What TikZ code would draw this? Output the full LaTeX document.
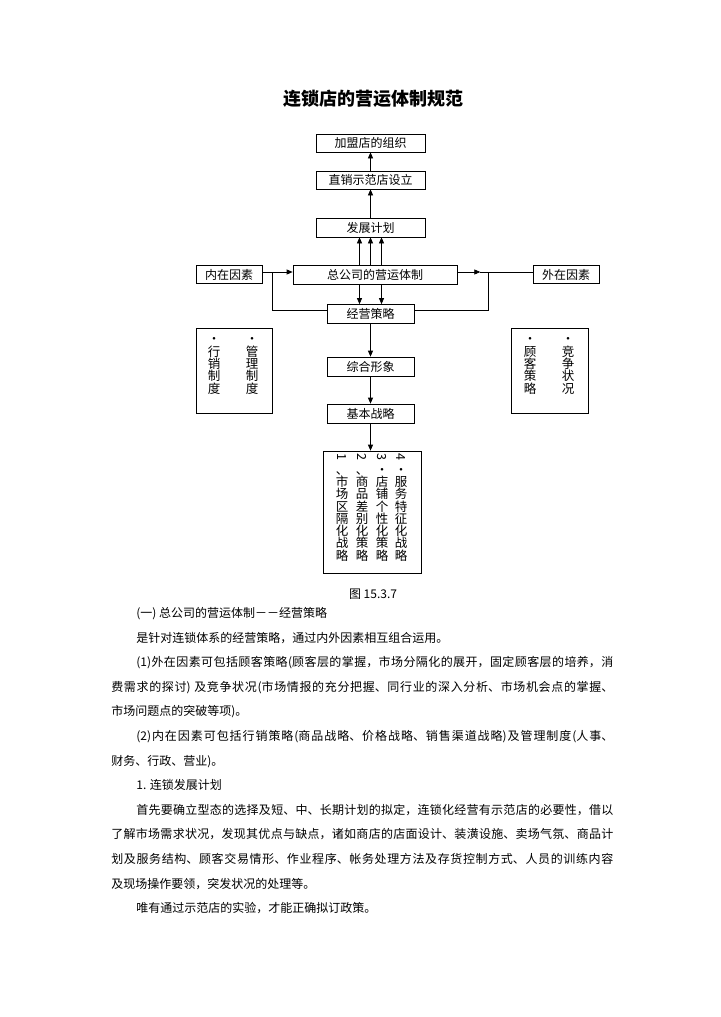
\documentclass[tikz,border=0pt]{standalone}
\usepackage{fontspec}
\setmainfont{Noto Sans CJK SC}
\usetikzlibrary{arrows.meta,positioning}
\XeTeXlinebreaklocale "zh"
\XeTeXlinebreakskip=0pt plus 1pt
\newcommand{\rot}[1]{\rotatebox[origin=c]{-90}{#1}}
\newcommand{\indnt}{\hspace*{25pt}}
\tikzset{
  plainbox/.style={draw,inner sep=0pt,minimum height=18pt,font=\fontsize{12}{14}\selectfont},
  colbox/.style={draw,inner sep=0pt},
  colnode/.style={align=center,inner sep=0pt,font=\fontsize{12.5}{12.3}\selectfont},
  arrowline/.style={-{Triangle[length=6pt,width=5pt]}},
}

\begin{document}
\begin{tikzpicture}[x=1pt,y=-1pt,line width=0.7pt]
  \useasboundingbox[fill=white] (0,0) rectangle (720,1017);

  \node[font=\fontsize{18}{20}\selectfont\bfseries] (title) at (373,99) {连锁店的营运体制规范};

  %% chain of boxes in the middle
  \node[plainbox,minimum width=109pt] (org)  at (370.5,143)   {加盟店的组织};
  \node[plainbox,minimum width=109pt] (demo) at (370.5,180)   {直销示范店设立};
  \node[plainbox,minimum width=109pt
       ,minimum height=19pt] (plan)  at (370.5,227.5) {发展计划};
  \node[plainbox,minimum width=164pt
       ,minimum height=19pt] (hq)    at (375,274.5)   {总公司的营运体制};
  \node[plainbox,minimum width=66pt] (inner) at (229,274.5) {内在因素};
  \node[plainbox,minimum width=66pt] (outer) at (566,274.5) {外在因素};
  \node[plainbox,minimum width=87pt
       ,minimum height=19pt] (strat) at (370.5,314)   {经营策略};
  \node[plainbox,minimum width=87pt
       ,minimum height=19pt] (image) at (370.5,366.5) {综合形象};
  \node[plainbox,minimum width=87pt
       ,minimum height=19pt] (basic) at (370.5,413.5) {基本战略};

  %% boxes with upright columns
  \node[colbox,minimum width=76pt,minimum height=85pt]  (within)  at (234,370.5)  {};
  \node[colbox,minimum width=77pt,minimum height=85pt]  (without) at (549.5,370.5) {};
  \node[colbox,minimum width=98pt,minimum height=122pt] (list)    at (372,512)    {};

  \node[colnode] (sell) at (214,366) {·\\行\\销\\制\\度};
  \node[colnode] (mgmt) at (252,366) {·\\管\\理\\制\\度};
  \node[colnode] (cust) at (530,366) {·\\顾\\客\\策\\略};
  \node[colnode] (comp) at (568,366) {·\\竞\\争\\状\\况};

  \node[colnode] (s1) at (342,507.5) {\rot{1}\\、\\市\\场\\区\\隔\\化\\战\\略};
  \node[colnode] (s2) at (362,507.5) {\rot{2}\\、\\商\\品\\差\\别\\化\\策\\略};
  \node[colnode] (s3) at (382,507.5) {\rot{3}\\·\\店\\铺\\个\\性\\化\\策\\略};
  \node[colnode] (s4) at (401,507.5) {\rot{4}\\·\\服\\务\\特\\征\\化\\战\\略};

  \node[font=\fontsize{12}{14}\selectfont] (caption) at (373,594) {图 15.3.7};

  %% connectors
  \draw[arrowline] (demo) -- (org);
  \draw[arrowline] (plan) -- (demo);
  \foreach \dx/\ux in {-15.5/-11,-4.5/0,6.5/11}
    \draw[arrowline] ([xshift=\dx pt]hq.north) -- ([xshift=\ux pt]plan.south);
  \foreach \dx/\ux in {-15.5/-11,6.5/11}
    \draw[arrowline] ([xshift=\dx pt]hq.south) -- ([xshift=\ux pt]strat.north);

  \draw[arrowline] ([yshift=2.5pt]inner.east) -- ([yshift=2.5pt]hq.west);
  \draw ([xshift=10pt,yshift=2.5pt]inner.east) |- ([yshift=4pt]strat.west);

  \coordinate (rjoin) at ([xshift=-44pt,yshift=2.5pt]outer.west);
  \draw[arrowline] ([yshift=2.5pt]hq.east) -- ([xshift=23pt,yshift=2.5pt]hq.east);
  \draw ([yshift=2.5pt]outer.west) -- ([xshift=23pt,yshift=2.5pt]hq.east);
  \draw (rjoin) |- ([yshift=4pt]strat.east);

  \draw[arrowline] (strat) -- (image);
  \draw[arrowline] (image) -- (basic);
  \draw[arrowline] (basic.south) -- (list.north -| basic.south);

  %% running text under the figure
  \node[anchor=north west,inner sep=0pt,text width=502pt,align=justify
       ,font=\fontsize{12}{24.6}\selectfont] (body) at (111,607) {%
    \indnt(一) 总公司的营运体制－－经营策略\par
    \indnt 是针对连锁体系的经营策略，通过内外因素相互组合运用。\par
    \indnt(1)外在因素可包括顾客策略(顾客层的掌握，市场分隔化的展开，固定顾客层的培养，消\linebreak
    费需求的探讨) 及竞争状况(市场情报的充分把握、同行业的深入分析、市场机会点的掌握、\linebreak
    市场问题点的突破等项)。\par
    \indnt(2)内在因素可包括行销策略(商品战略、价格战略、销售渠道战略)及管理制度(人事、\linebreak
    财务、行政、营业)。\par
    \indnt 1. 连锁发展计划\par
    \indnt 首先要确立型态的选择及短、中、长期计划的拟定，连锁化经营有示范店的必要性，借以\linebreak
    了解市场需求状况，发现其优点与缺点，诸如商店的店面设计、装潢设施、卖场气氛、商品计\linebreak
    划及服务结构、顾客交易情形、作业程序、帐务处理方法及存货控制方式、人员的训练内容\linebreak
    及现场操作要领，突发状况的处理等。\par
    \indnt 唯有通过示范店的实验，才能正确拟订政策。};
\end{tikzpicture}
\end{document}
